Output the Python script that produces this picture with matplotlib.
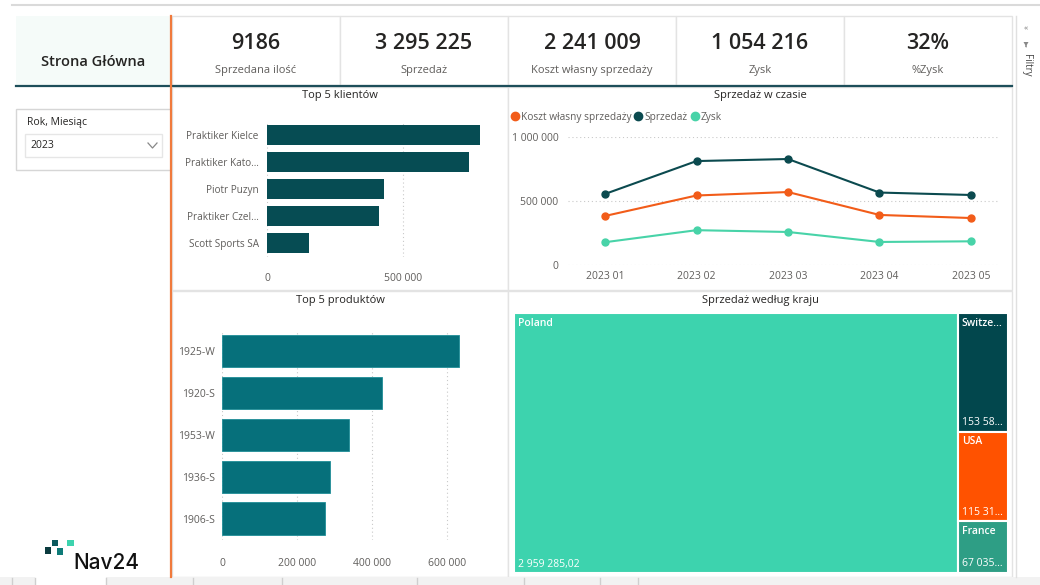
import matplotlib
matplotlib.use("Agg")
import matplotlib.pyplot as plt
from matplotlib.patches import Rectangle, Polygon
from matplotlib.lines import Line2D
from matplotlib.ticker import FuncFormatter, FixedLocator

plt.rcParams['font.family'] = ['Open Sans', 'DejaVu Sans']

W, H = 1040, 585

# ---------------- data ----------------
kpi_values = ["9186", "3 295 225", "2 241 009", "1 054 216", "32%"]
kpi_labels = ["Sprzedana ilość", "Sprzedaż", "Koszt własny sprzedaży", "Zysk", "%Zysk"]

clients = ["Praktiker Kielce", "Praktiker Katowice", "Piotr Puzyn", "Praktiker Czeladź", "Scott Sports SA"]
client_sales = [783000, 743000, 430000, 412000, 154000]

products = ["1925-W", "1920-S", "1953-W", "1936-S", "1906-S"]
product_sales = [632000, 427000, 339000, 288000, 275000]

months = ["2023 01", "2023 02", "2023 03", "2023 04", "2023 05"]
sales_month = [555000, 812000, 828000, 566000, 547000]
cost_month = [383000, 543000, 570000, 391000, 367000]
profit_month = [178000, 272000, 258000, 180000, 185000]

countries = ["Poland", "Switzerland", "USA", "France"]
country_sales = [2959285.02, 153586.40, 115317.85, 67035.73]

# ---------------- style ----------------
C_TXT = "#252423"
C_GRAY = "#605E5C"
C_BORDER = "#E3E3E3"
C_DARK = "#064C53"
C_PROD = "#06707B"
C_ORANGE = "#F25C19"
C_MINT = "#48D3A8"
country_colors = ["#3DD3AE", "#02474D", "#FF5200", "#2E9E85"]


def fmt_pl(v, d=0):
    s = f"{v:,.{d}f}"
    return s.replace(",", " ").replace(".", ",")


def short(name, n=16, keep=14):
    return name if len(name) <= n else name[:keep] + "…"


fig = plt.figure(figsize=(W / 100, H / 100), dpi=100)
fig.patch.set_facecolor("white")


def ax_px(x0, y0, x1, y1, **kw):
    return fig.add_axes([x0 / W, 1 - y1 / H, (x1 - x0) / W, (y1 - y0) / H], **kw)


# ---------------- background / decorations ----------------
bg = fig.add_axes([0, 0, 1, 1], zorder=-10)
bg.set_xlim(0, W)
bg.set_ylim(H, 0)
bg.axis("off")

# top line
bg.add_line(Line2D([12, 1040], [5, 5], color="#DADADA", lw=1.5))

# left title box
bg.add_patch(Rectangle((16, 16), 155, 69, facecolor="#F5FBF9", edgecolor="none"))
bg.text(93, 62, "Strona Główna", ha="center", va="center", fontsize=10.5,
        fontweight="semibold", color=C_TXT)

# KPI cards
card_edges = [172, 340, 508, 676, 844, 1012]
for i in range(5):
    x0, x1 = card_edges[i], card_edges[i + 1]
    bg.add_patch(Rectangle((x0, 16), x1 - x0, 69, facecolor="white",
                           edgecolor=C_BORDER, lw=1))
    cx = (x0 + x1) / 2
    bg.text(cx, 43.5, kpi_values[i], ha="center", va="center", fontsize=15.5,
            fontweight="semibold", color=C_TXT)
    bg.text(cx, 70, kpi_labels[i], ha="center", va="center", fontsize=8,
            color=C_GRAY)

# dark rule under header
bg.add_line(Line2D([16, 1012], [85.5, 85.5], color="#1D4E5A", lw=1.6))

# panels
for (x0, y0, x1, y1) in [(172, 87, 508, 290), (508, 87, 1012, 290),
                         (172, 291, 508, 577), (508, 291, 1012, 577)]:
    bg.add_patch(Rectangle((x0, y0), x1 - x0, y1 - y0, facecolor="white",
                           edgecolor=C_BORDER, lw=1))

# panel titles
bg.text(340, 95.5, "Top 5 klientów", ha="center", va="center", fontsize=8, color=C_TXT)
bg.text(760, 95.5, "Sprzedaż w czasie", ha="center", va="center", fontsize=8, color=C_TXT)
bg.text(340, 300.5, "Top 5 produktów", ha="center", va="center", fontsize=8, color=C_TXT)
bg.text(760, 300.5, "Sprzedaż według kraju", ha="center", va="center", fontsize=8, color=C_TXT)

# orange vertical line
bg.add_line(Line2D([171, 171], [16, 577], color="#F07A3C", lw=1.6))

# slicer
bg.add_patch(Rectangle((16, 109), 155, 61, facecolor="white", edgecolor="#D6D6D6", lw=1))
bg.text(27, 122, "Rok, Miesiąc", ha="left", va="center", fontsize=7.5, color=C_TXT)
bg.add_patch(Rectangle((25, 134), 137, 23, facecolor="white", edgecolor="#E6E6E6", lw=1))
bg.text(30, 146, "2023", ha="left", va="center", fontsize=7.5, color=C_TXT)
bg.add_line(Line2D([148, 152.5, 157], [143, 148, 143], color="#888888", lw=0.9))

# logo
bg.add_patch(Rectangle((45, 547), 6, 6.5, facecolor="#0B3B3F", edgecolor="none"))
bg.add_patch(Rectangle((51.5, 539.5), 6, 6.5, facecolor="#0B5A5E", edgecolor="none"))
bg.add_patch(Rectangle((57, 548), 6, 6.5, facecolor="#0E7B78", edgecolor="none"))
bg.add_patch(Rectangle((67, 539.5), 6.5, 6.5, facecolor="#3DD3AE", edgecolor="none"))
bg.text(73, 563, "Nav24", ha="left", va="center", fontsize=15, fontweight="medium",
        color="#111111", family=["Inter", "DejaVu Sans"])

# filters pane
bg.add_line(Line2D([1016, 1016], [16, 577], color="#E0E0E0", lw=1))
bg.text(1026, 29, "«", ha="center", va="center", fontsize=6, color="#777777")
bg.add_patch(Polygon([[1023.5, 42], [1028.5, 42], [1026.8, 45], [1026.8, 47.5],
                      [1025.2, 47], [1025.2, 45]], closed=True, facecolor="#888888",
                     edgecolor="none"))
bg.text(1027, 65, "Filtry", ha="center", va="center", fontsize=7, rotation=-90,
        color="#444444")

# bottom tabs strip
bg.add_patch(Rectangle((0, 577), W, 8, facecolor="#F2F2F2", edgecolor="none"))
bg.add_patch(Rectangle((35, 577), 71, 8, facecolor="#FFFFFF", edgecolor="none"))
for x in [12, 35, 106, 193, 282, 417, 524, 600, 638]:
    bg.add_line(Line2D([x, x], [578, 585], color="#CFCFCF", lw=1))


def style_axis(ax):
    ax.set_facecolor("none")
    for s in ax.spines.values():
        s.set_visible(False)
    ax.tick_params(length=0, labelsize=7.5, labelcolor=C_GRAY)


grid_kw = dict(color="#C9C9C9", lw=0.8, linestyle=(0, (1, 2.5)))
fmt = FuncFormatter(lambda v, p: fmt_pl(v))

# ---------------- Top 5 klientów ----------------
ax1 = ax_px(267, 121.5, 500, 256.5)
style_axis(ax1)
y1 = list(range(len(clients)))
ax1.barh(y1, client_sales, height=0.74, color=C_DARK, zorder=3)
ax1.set_ylim(len(clients) - 0.5, -0.5)
ax1.set_xlim(0, (500 - 267) / 136 * 500000)
ax1.set_yticks(y1)
ax1.set_yticklabels([short(c) for c in clients])
ax1.tick_params(axis="y", labelsize=7.2)
ax1.xaxis.set_major_locator(FixedLocator([0, 500000]))
ax1.xaxis.set_major_formatter(fmt)
ax1.tick_params(axis="x", pad=12)
ax1.tick_params(axis="y", pad=6)
ax1.grid(axis="x", **grid_kw)
ax1.set_axisbelow(True)

# ---------------- Top 5 produktów ----------------
ax2 = ax_px(222, 330, 500, 539.5)
style_axis(ax2)
y2 = list(range(len(products)))
ax2.barh(y2, product_sales, height=0.77, color=C_PROD, edgecolor="#1F8E98",
         lw=0.6, zorder=3)
ax2.set_ylim(len(products) - 0.5, -0.5)
ax2.set_xlim(0, (500 - 222) / 75 * 200000)
ax2.set_yticks(y2)
ax2.set_yticklabels(products)
ax2.xaxis.set_major_locator(FixedLocator([0, 200000, 400000, 600000]))
ax2.xaxis.set_major_formatter(fmt)
ax2.tick_params(axis="x", pad=13)
ax2.tick_params(axis="y", pad=5)
ax2.grid(axis="x", **grid_kw)
ax2.set_axisbelow(True)

# ---------------- Sprzedaż w czasie ----------------
ax3 = ax_px(568, 137, 998, 265)
style_axis(ax3)
xm = list(range(len(months)))
ax3.plot(xm, cost_month, color=C_ORANGE, lw=1.5, marker="o", ms=5,
         label="Koszt własny sprzedaży", clip_on=False, zorder=3)
ax3.plot(xm, sales_month, color="#0B4A4F", lw=1.5, marker="o", ms=5,
         label="Sprzedaż", clip_on=False, zorder=3)
ax3.plot(xm, profit_month, color=C_MINT, lw=1.5, marker="o", ms=5,
         label="Zysk", clip_on=False, zorder=3)
ax3.set_xlim(-(605 - 568) / 91.5, 4 + (998 - 971) / 91.5)
ax3.set_ylim(0, 1000000)
ax3.set_xticks(xm)
ax3.set_xticklabels(months)
ax3.yaxis.set_major_locator(FixedLocator([0, 500000, 1000000]))
ax3.yaxis.set_major_formatter(fmt)
ax3.tick_params(axis="x", pad=4)
ax3.tick_params(axis="y", pad=7)
ax3.grid(axis="y", **grid_kw)
ax3.set_axisbelow(True)
handles = [Line2D([], [], color=C_ORANGE, marker="o", ls="none", ms=6),
           Line2D([], [], color="#0B4A4F", marker="o", ls="none", ms=6),
           Line2D([], [], color=C_MINT, marker="o", ls="none", ms=6)]
leg = ax3.legend(handles, ["Koszt własny sprzedaży", "Sprzedaż", "Zysk"],
                 loc="center left", bbox_to_anchor=(512 / W, 1 - 117.5 / H),
                 bbox_transform=fig.transFigure, ncol=3, frameon=False,
                 fontsize=7.3, handlelength=0.5, handletextpad=0.35,
                 columnspacing=0.45, borderpad=0, borderaxespad=0)
for t in leg.get_texts():
    t.set_color(C_GRAY)

# ---------------- Sprzedaż według kraju (treemap) ----------------
ax4 = ax_px(514, 313, 1008, 573)
ax4.set_xlim(0, 1)
ax4.set_ylim(1, 0)
ax4.axis("off")
total = sum(country_sales)
rest = sum(country_sales[1:])
rects = []
w0 = country_sales[0] / total
rects.append((0, 0, w0, 1))
ycur = 0
for v in country_sales[1:]:
    h = v / rest
    rects.append((w0, ycur, 1 - w0, h))
    ycur += h

fig.canvas.draw()
renderer = fig.canvas.get_renderer()
px_w = 1008 - 514
px_h = 573 - 313


def fit_text(x, y, s, maxw, **kw):
    t = ax4.text(x, y, s, **kw)
    if t.get_window_extent(renderer).width > maxw:
        base = s
        while len(base) > 1:
            base = base[:-1]
            t.set_text(base.rstrip() + "…")
            if t.get_window_extent(renderer).width <= maxw:
                break
    return t


for (x, y, w, h), name, val, col in zip(rects, countries, country_sales, country_colors):
    ax4.add_patch(Rectangle((x, y), w, h, facecolor=col, edgecolor="white", lw=1.5))
    maxw = w * px_w - 8
    fit_text(x + 4 / px_w, y + 10 / px_h, name, maxw, ha="left", va="center",
             fontsize=7.5, color="white", fontweight="semibold")
    fit_text(x + 4 / px_w, y + h - 9 / px_h, fmt_pl(val, 2), maxw, ha="left",
             va="center", fontsize=7.5, color="white")

fig.savefig("out.png", dpi=100, facecolor="white")
